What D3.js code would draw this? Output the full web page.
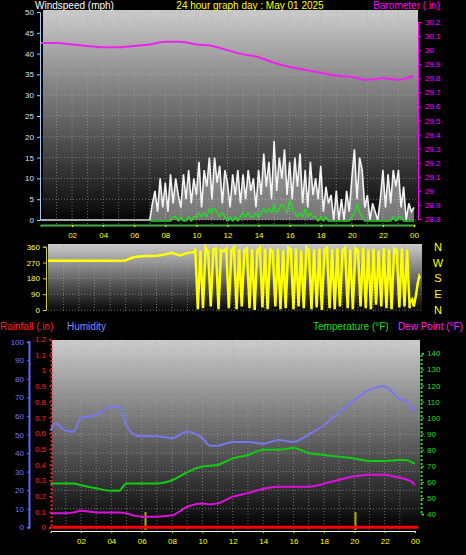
<!DOCTYPE html>
<html><head><meta charset="utf-8">
<script src="https://cdn.jsdelivr.net/npm/d3@7/dist/d3.min.js"></script>
<style>body{margin:0;background:#000}svg{display:block;font-family:Arial,"Liberation Sans",sans-serif}</style>
</head><body><svg id="c" width="466" height="555"></svg>
<script>
// ---- data ----
const hourLabels=["02","04","06","08","10","12","14","16","18","20","22","00"];
const baroHours=d3.range(0,25);
const baro=[30.05,30.05,30.04,30.03,30.02,30.02,30.03,30.04,30.06,30.06,30.04,30.03,30.0,29.97,29.95,29.91,29.88,29.86,29.84,29.82,29.81,29.79,29.80,29.79,29.82];
const windStart=7, windStep=1/6;
const gust=[0,4,7,2,10,3, 9,2,11,4,10,6, 3,11,5,12,4,10, 6,14,3,12,8,15, 5,15,9,13,4,12, 9,3,11,6,12,4, 11,5,12,7,10,3, 12,6,16,8,14,5, 19,7,15,10,17,6, 14,5,15,8,16,4, 12,3,14,6,10,5, 13,2,8,4,6,0, 7,0,5,0,7,2, 10,17,5,15,12,3, 6,0,4,2,0,5, 12,3,11,4,12,8, 12,3,8,0,4,2,3];
const avgWind=[0,0,0,0,0,0, 0,0,0,1,1,0, 1,0,0,1,0,1, 1,2,1,2,1,3, 2,3,2,1,2,1, 0,1,0,1,0,1, 2,1,2,1,1,2, 1,2,3,2,3,2, 4,2,3,4,3,2, 5,3,2,1,2,1, 3,1,2,1,1,0, 1,0,1,0,0,0, 0,0,0,0,0,0, 1,2,4,2,1,0, 0,0,0,0,0,0, 0,0,0,0,1,0, 1,1,0,0,0,0,0];
const dirEarlyHours=[0,1,2,3,4,5,5.5,6,7,7.5,8,8.5,9,9.5];
const dirEarly=[280,280,280,280,280,282,300,305,308,315,325,310,325,330];
const dirSpikyStart=9.5, dirStep=1/6;
const dirSpiky=[350,5,340,10,355,330, 20,345,350,5,340,335, 350,10,340,355,5,345, 20,340,350,10,345,0, 340,355,15,350,5,345, 335,20,350,5,340,10, 355,345,5,350,20,340, 10,355,340,5,345,15, 350,0,340,355,10,345, 5,350,20,340,355,10, 345,5,350,340,20,355, 10,345,5,350,30,340, 20,355,10,345,5,350, 340,15,350,20,345,10];
const dirTailHours=[23.33,23.5,23.6,23.75,23.85,23.95,24];
const dirTail=[40,60,20,90,150,190,180];
const thHours=[0,0.3,1,1.5,2,3,4,4.5,5,5.5,6,7,8,9,10,10.5,11,12,13,14,15,16,17,18,19,20,21,22,23,23.5,23.8,24];
const humidity=[52,56,52,51.5,59,60.5,65,65,55,50,49,49,48,51.5,48,44,44,46,46,45,47,46,50,55,62,68.5,74,76,69,68,63,65];
const temperature=[59,59,59,59,58,56,54.5,54.5,59,59,59,59,61,66,69.5,70,70.5,74.6,76.7,80,80,81,78,76.7,75.7,74.6,73,73,73.6,73.5,72,71.5];
const dewpoint=[40.4,40.4,40.4,41,42,41,41,41,40.4,39,38.3,38.3,39.2,44.5,46.6,46,46.6,50.8,53,55.7,57,57,57,58.8,61.3,63.5,64.5,64.5,62.5,61.3,60,58];
const markHours=[6.25,20.08];

const svg=d3.select("#c");
const defs=svg.append("defs");
const g=defs.append("linearGradient").attr("id","bg").attr("x1",0).attr("y1",0).attr("x2",0).attr("y2",1);
g.append("stop").attr("offset","0%").attr("stop-color","#cccccc");
g.append("stop").attr("offset","100%").attr("stop-color","#000");

function panel(x0,x1,y0,y1){
  svg.append("rect").attr("x",x0).attr("y",y0).attr("width",x1-x0).attr("height",y1-y0).attr("fill","url(#bg)");
}
function grid(x,y,yt,x0,x1,y0,y1){
  svg.append("g").selectAll("line").data(yt).join("line").attr("x1",x0).attr("x2",x1).attr("y1",d=>y(d)).attr("y2",d=>y(d)).attr("stroke","#aaa").attr("stroke-opacity",0.6).attr("stroke-dasharray","1,2");
  svg.append("g").selectAll("line").data(d3.range(1,24)).join("line").attr("x1",d=>x(d)).attr("x2",d=>x(d)).attr("y1",y0).attr("y2",y1).attr("stroke","#aaa").attr("stroke-opacity",0.6).attr("stroke-dasharray","1,2");
}
function txt(x,y,s,c,a,fs){svg.append("text").attr("x",x).attr("y",y).attr("fill",c).attr("font-size",fs||10).attr("text-anchor",a||"start").text(s);}
function axisStyle(sel,c){sel.selectAll("text").attr("fill",c).attr("font-size",8);sel.selectAll("line").attr("stroke",c);sel.select(".domain").attr("stroke",c);}

// ---- top panel ----
const xT=d3.scaleLinear().domain([0,24]).range([41,414]);
const yW=d3.scaleLinear().domain([0,50]).range([220,12]);
const yB=d3.scaleLinear().domain([28.8,30.2]).range([219,22]);
panel(43,418,10,225);
grid(xT,yW,d3.range(0,51,5),43,418,10,225);
const la=svg.append("g").attr("transform","translate(40,0)").call(d3.axisLeft(yW).tickValues(d3.range(0,51,5)).tickSize(3).tickPadding(3));
axisStyle(la,"#9ecbff");la.selectAll("text").attr("fill","#cfe4ff");
const ra=svg.append("g").attr("transform","translate(418,0)").call(d3.axisRight(yB).tickValues(d3.range(28.8,30.21,0.1)).tickFormat(d=>+d.toFixed(1)).tickSize(3).tickPadding(4));
axisStyle(ra,"#ff00ff");
const ba=svg.append("g").attr("transform","translate(0,225)").call(d3.axisBottom(xT).tickValues(d3.range(2,25,2)).tickFormat((d,i)=>hourLabels[i]).tickSize(2).tickPadding(5));
axisStyle(ba,"#ffff00");ba.select(".domain").attr("stroke","#4a4").attr("stroke-width",2);
// wind
const wt=i=>windStart+i*windStep;
svg.append("path").datum([[0,0],[windStart,0]]).attr("d",d3.line().x(d=>xT(d[0])).y(d=>yW(d[1]))).attr("stroke","#ddd").attr("stroke-width",1.5).attr("fill","none");
svg.append("path").datum(gust).attr("d",d3.area().x((d,i)=>xT(wt(i))).y0(yW(0)).y1(d=>yW(d))).attr("fill","#fff").attr("fill-opacity",0.45);
svg.append("path").datum(gust).attr("d",d3.line().x((d,i)=>xT(wt(i))).y(d=>yW(d))).attr("stroke","#f4f4f4").attr("stroke-width",1.6).attr("fill","none");
svg.append("path").datum(avgWind).attr("d",d3.line().x((d,i)=>xT(wt(i))).y(d=>yW(d)+1).curve(d3.curveMonotoneX)).attr("stroke","#22dd22").attr("stroke-width",1.5).attr("fill","none");
svg.append("path").datum(baro).attr("d",d3.line().x((d,i)=>xT(baroHours[i])).y(d=>yB(d)).curve(d3.curveMonotoneX)).attr("stroke","#ee22ee").attr("stroke-width",2).attr("fill","none");
txt(35,9,"Windspeed (mph)","#fff","start",10);
txt(250,9,"24 hour graph day : May 01 2025","#ffff00","middle",10);
txt(440,9,"Barometer (.in)","#ff00ff","end",10);

// ---- middle panel ----
const xM=d3.scaleLinear().domain([0,24]).range([48,420]);
const yD=d3.scaleLinear().domain([0,360]).range([310,246.7]);
panel(48,422,244,313);
grid(xM,yD,[0,90,180,270,360],48,422,244,313);
const ma=svg.append("g").attr("transform","translate(46,0)").call(d3.axisLeft(yD).tickValues([0,90,180,270,360]).tickSize(3).tickPadding(3));
axisStyle(ma,"#cccc33");ma.selectAll("text").attr("fill","#ffff66");
const dirPts=dirEarly.map((v,i)=>[dirEarlyHours[i],v]).concat(dirSpiky.map((v,i)=>[dirSpikyStart+i*dirStep,v])).concat(dirTail.map((v,i)=>[dirTailHours[i],v]));
svg.append("path").datum(dirPts).attr("d",d3.line().x(d=>xM(d[0])).y(d=>yD(d[1]))).attr("stroke","#ffff00").attr("stroke-width",2.5).attr("fill","none");
["N","W","S","E","N"].forEach((s,i)=>txt(438,yD(360-i*90)+4,s,"#ffff00","middle",11));

// ---- bottom panel ----
const xB=d3.scaleLinear().domain([0,24]).range([50.6,415]);
const yH=d3.scaleLinear().domain([0,100]).range([527.3,341.7]);
const yR=d3.scaleLinear().domain([0,1.2]).range([527.3,339]);
const yTm=d3.scaleLinear().domain([40,140]).range([514,353.3]);
panel(52,420,340,531);
grid(xB,yH,d3.range(0,101,10),52,420,340,531);
const ha=svg.append("g").attr("transform","translate(29,0)").call(d3.axisLeft(yH).tickValues(d3.range(0,101,10)).tickSize(2).tickPadding(3));
axisStyle(ha,"#6666ff");ha.select(".domain").attr("stroke-width",2);ha.selectAll("text").attr("fill","#7777ff");
const rra=svg.append("g").attr("transform","translate(51,0)").call(d3.axisLeft(yR).tickValues(d3.range(0,1.21,0.1)).tickFormat(d=>+d.toFixed(1)).tickSize(2).tickPadding(3));
axisStyle(rra,"#ff2222");rra.select(".domain").attr("stroke-dasharray","2,2").attr("stroke-width",2);
const ta=svg.append("g").attr("transform","translate(421,0)").call(d3.axisRight(yTm).tickValues(d3.range(40,141,10)).tickSize(3).tickPadding(3));
axisStyle(ta,"#22dd22");ta.select(".domain").attr("stroke-dasharray","2,2").attr("stroke-width",2);
const bb=svg.append("g").attr("transform","translate(0,531)").call(d3.axisBottom(xB).tickValues(d3.range(2,25,2)).tickFormat((d,i)=>hourLabels[i]).tickSize(2).tickPadding(5));
axisStyle(bb,"#ffff00");bb.select(".domain").attr("stroke","#fff").attr("stroke-width",1);
svg.append("g").selectAll("line").data(markHours).join("line").attr("x1",d=>xB(d)).attr("x2",d=>xB(d)).attr("y1",512).attr("y2",530).attr("stroke","#bba800").attr("stroke-width",2);
svg.append("line").attr("x1",52).attr("x2",418).attr("y1",yR(0)).attr("y2",yR(0)).attr("stroke","#ff0000").attr("stroke-width",3);
const ln=(arr,y)=>d3.line().x((d,i)=>xB(thHours[i])).y(d=>y(d)).curve(d3.curveMonotoneX)(arr);
svg.append("path").attr("d",ln(humidity,yH)).attr("stroke","#7777ee").attr("stroke-width",2).attr("fill","none");
svg.append("path").attr("d",ln(temperature,yTm)).attr("stroke","#11cc11").attr("stroke-width",2).attr("fill","none");
svg.append("path").attr("d",ln(dewpoint,yTm)).attr("stroke","#dd11dd").attr("stroke-width",2).attr("fill","none");
txt(0,330,"Rainfall (.in)","#ff2222","start",10);
txt(67,330,"Humidity","#8888ff","start",10);
txt(313,330,"Temperature (°F)","#22dd22","start",10);
txt(463,330,"Dew Point (°F)","#ff22ff","end",10);
</script></body></html>
